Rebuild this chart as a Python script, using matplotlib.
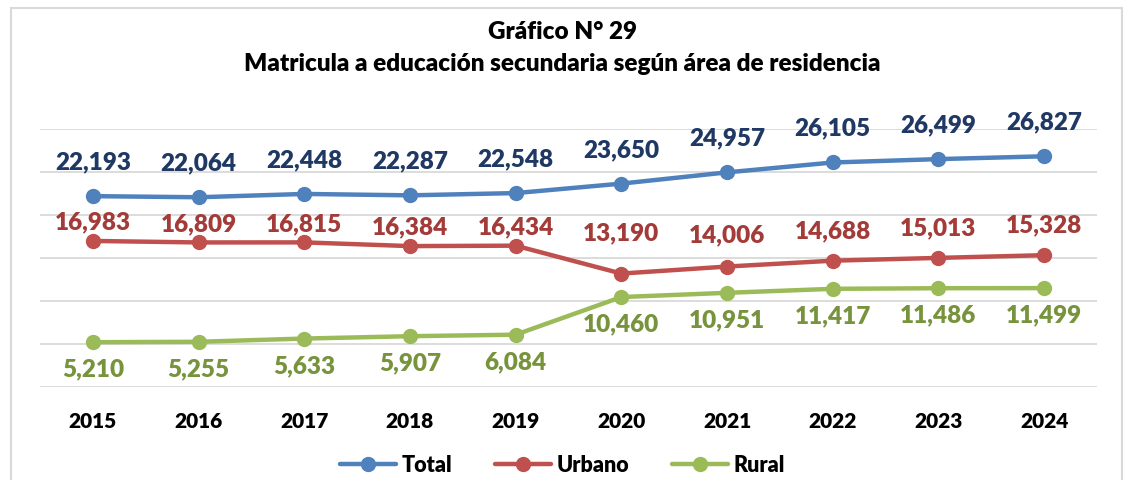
import matplotlib.pyplot as plt
from matplotlib.patches import Rectangle

# ── Data ──────────────────────────────────────────────────────────────────────
years = ["2015", "2016", "2017", "2018", "2019", "2020", "2021", "2022", "2023", "2024"]
total = [22193, 22064, 22448, 22287, 22548, 23650, 24957, 26105, 26499, 26827]
urbano = [16983, 16809, 16815, 16384, 16434, 13190, 14006, 14688, 15013, 15328]
rural = [5210, 5255, 5633, 5907, 6084, 10460, 10951, 11417, 11486, 11499]

# label offsets in points (labels were nudged by hand in the original)
off_total = [25] * 10
off_urbano = [14, 14, 14, 14, 14, 30, 23, 22, 22, 22]
off_rural = [-19] * 10

plt.rcParams['font.family'] = ['Lato', 'DejaVu Sans']
W = 'heavy'

fig = plt.figure(figsize=(11.25, 4.81), dpi=100)
ax = fig.add_axes([40 / 1125, 1 - 388 / 481, 1057 / 1125, 258 / 481])

# light frame around the chart
fig.patches.append(Rectangle((11 / 1125, -0.05), 1111 / 1125, 1.05 - 9 / 481,
                             transform=fig.transFigure, fill=False,
                             edgecolor='#D9D9D9', linewidth=1.5))

series = [
    ("Total", total, '#4F81BD', '#1F3864', off_total),
    ("Urbano", urbano, '#C0504D', '#A33B39', off_urbano),
    ("Rural", rural, '#9BBB59', '#77933C', off_rural),
]

x = list(range(len(years)))
for name, vals, lc, tc, offs in series:
    ax.plot(x, vals, color=lc, linewidth=3.2, marker='o', markersize=10,
            label=name, solid_capstyle='round', zorder=3)
    for xi, v, o in zip(x, vals, offs):
        ax.annotate(f"{v:,}", (xi, v), xytext=(0, o), textcoords='offset points',
                    ha='center', va='center', fontsize=17.5, fontweight=W,
                    color=tc)

ax.set_xlim(-0.5, len(years) - 0.5)
ax.set_ylim(0, 30000)
ax.set_yticks(range(0, 30001, 5000))
ax.yaxis.grid(True, color='#D9D9D9', linewidth=1.3)
ax.set_axisbelow(True)
ax.tick_params(axis='y', left=False, labelleft=False)
ax.tick_params(axis='x', bottom=False, pad=14)
ax.set_xticks(x)
ax.set_xticklabels(years, fontsize=15, fontweight=W)
for s in ax.spines.values():
    s.set_visible(False)

fig.text(0.5, 1 - 32 / 481, "Gráfico N° 29", ha='center', va='center',
         fontsize=17.5, fontweight=W)
fig.text(0.5, 1 - 64 / 481, "Matricula a educación secundaria según área de residencia",
         ha='center', va='center', fontsize=17.5, fontweight=W)

fig.legend(loc='center', bbox_to_anchor=(0.5, 1 - 466 / 481), ncol=3,
           frameon=False, handlelength=2.6, columnspacing=2.0,
           handletextpad=0.25, prop={'weight': W, 'size': 15.5})

fig.savefig("out.png", dpi=100)
